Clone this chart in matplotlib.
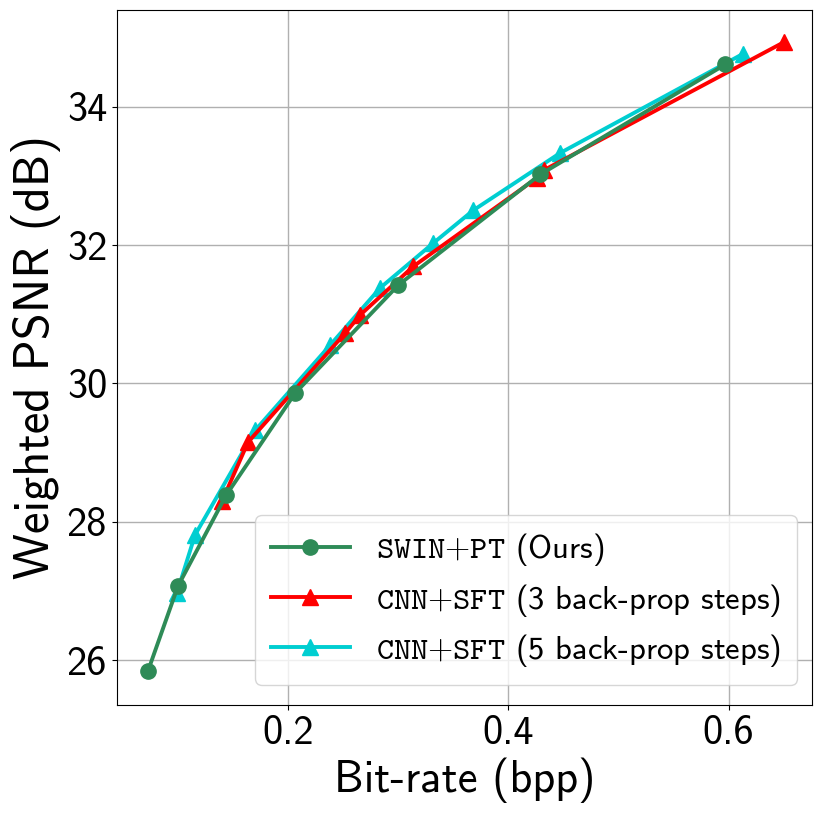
import matplotlib
matplotlib.use('Agg')
import matplotlib.pyplot as plt

# Rate-distortion curves
swin_bpp = [0.0727, 0.100, 0.1436, 0.2064, 0.300, 0.429, 0.597]
swin_psnr = [25.84, 27.07, 28.38, 29.86, 31.42, 33.02, 34.61]

cnn3_bpp = [0.140, 0.1636, 0.252, 0.2655, 0.3136, 0.426, 0.432, 0.650]
cnn3_psnr = [28.30, 29.15, 30.73, 30.99, 31.69, 32.97, 33.08, 34.93]

cnn5_bpp = [0.099, 0.1155, 0.170, 0.238, 0.2836, 0.332, 0.368, 0.447, 0.6127]
cnn5_psnr = [26.97, 27.81, 29.32, 30.55, 31.38, 32.03, 32.50, 33.33, 34.76]

labels = [r'$\mathtt{SWIN{+}PT}$ (Ours)',
          r'$\mathtt{CNN{+}SFT}$ (3 back-prop steps)',
          r'$\mathtt{CNN{+}SFT}$ (5 back-prop steps)']

plt.rcParams['font.family'] = 'cmss10'
plt.rcParams['mathtext.fontset'] = 'cm'
plt.rcParams['axes.unicode_minus'] = False

fig = plt.figure(figsize=(8.23, 8.17), dpi=100)
ax = fig.add_axes([0.142, 0.137, 0.845, 0.851])

ax.plot(swin_bpp, swin_psnr, '-o', color='seagreen', lw=2.8, ms=11, label=labels[0], zorder=5)
ax.plot(cnn3_bpp, cnn3_psnr, '-^', color='red', lw=2.8, ms=11, label=labels[1], zorder=4)
ax.plot(cnn5_bpp, cnn5_psnr, '-^', color='darkturquoise', lw=2.8, ms=11, label=labels[2], zorder=3)

ax.set_xlim(0.0445, 0.676)
ax.set_ylim(25.35, 35.40)
ax.set_xticks([0.2, 0.4, 0.6])
ax.set_yticks([26, 28, 30, 32, 34])
ax.tick_params(labelsize=29)
ax.grid(True, color='#b0b0b0', lw=1)
ax.set_axisbelow(True)

ax.set_xlabel('Bit-rate (bpp)', fontsize=32)
ax.set_ylabel('Weighted PSNR (dB)', fontsize=35)

ax.legend(loc='lower right', fontsize=23.5, handlelength=2.4, borderpad=0.5,
          labelspacing=0.4, borderaxespad=0, bbox_to_anchor=(0.978, 0.029))

plt.savefig('out.png')
